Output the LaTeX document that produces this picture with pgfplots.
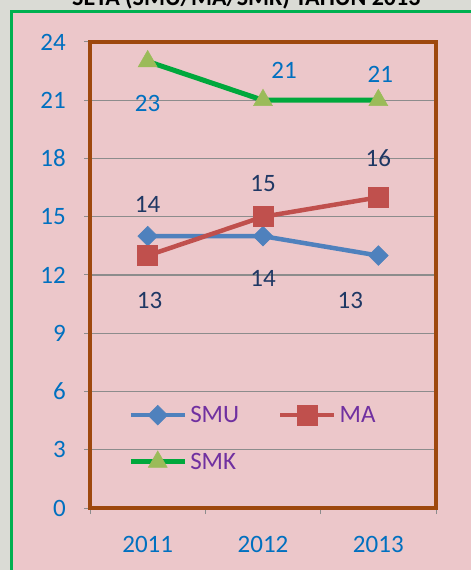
\documentclass[border=0pt]{standalone}
\usepackage{pgfplots}
\usepackage{pgfplotstable}
\pgfplotsset{compat=1.18}
\usepackage{fontspec}
\setmainfont{Carlito}
\definecolor{bgout}{RGB}{218,219,213}
\definecolor{pinkbg}{RGB}{236,199,202}
\definecolor{frameg}{RGB}{0,176,80}
\definecolor{brownax}{RGB}{158,72,14}
\definecolor{tickblue}{RGB}{0,112,192}
\definecolor{navy}{RGB}{31,56,100}
\definecolor{smu}{RGB}{79,129,189}
\definecolor{ma}{RGB}{192,80,77}
\definecolor{smkl}{RGB}{0,168,60}
\definecolor{smkm}{RGB}{155,187,89}
\definecolor{legpurple}{RGB}{112,48,160}
\definecolor{gridg}{RGB}{140,140,140}

\pgfplotstableread{
x y dx dy
1 14 0 32
2 14 0 -42
3 13 -28 -45
}\smutab
\pgfplotstableread{
x y dx dy
1 13 2 -45
2 15 0 33
3 16 0 39
}\matab
\pgfplotstableread{
x y dx dy
1 23 0 -42
2 21 21 30
3 21 2 26
}\smktab

\begin{document}
\begin{tikzpicture}
\useasboundingbox (0pt,0pt) rectangle (471pt,570pt);
\clip (0pt,0pt) rectangle (471pt,570pt);
\fill[bgout] (0pt,0pt) rectangle (471pt,570pt);
\fill[pinkbg] (10pt,0pt) rectangle (471pt,560pt);
\draw[frameg, line width=3.5pt] (11.5pt,0pt) -- (11.5pt,558.5pt) -- (471pt,558.5pt);
\node[anchor=base west, font=\bfseries\fontsize{24}{28}\selectfont, inner sep=0pt] at (72pt,564pt) {SETA (SMU/MA/SMK) TAHUN 2013};
\begin{axis}[
  at={(90pt,62pt)}, anchor=south west,
  scale only axis, width=346pt, height=466pt,
  xmin=0.5, xmax=3.5, ymin=0, ymax=24,
  clip=false,
  /pgf/number format/assume math mode=true,
  xtick={1,2,3}, xticklabels={2011,2012,2013},
  minor xtick={0.5,1.5,2.5,3.5},
  ytick={0,3,...,24},
  ymajorgrids,
  grid style={draw=gridg, line width=1.2pt},
  tick align=outside,
  major tick length=6pt, minor tick length=6pt,
  major x tick style={draw=none},
  tick style={draw=gridg, line width=1pt},
  axis line style={draw=brownax, line width=4pt},
  xtick pos=bottom, ytick pos=left,
  ticklabel style={font=\fontsize{25}{30}\selectfont, text=tickblue, inner sep=0pt},
  xticklabel style={anchor=north, yshift=-22pt},
  yticklabel style={anchor=east, xshift=-18pt},
  legend style={at={(0.11,0.225)}, anchor=north west, draw=none, fill=none, inner sep=0pt,
    font=\fontsize{25}{30}\selectfont, text=legpurple,
    nodes={inner sep=3pt},
    /tikz/every even column/.append style={column sep=36pt}, row sep=23pt},
  legend columns=2,
  legend cell align=left,
  legend image code/.code={\draw[mark repeat=2,mark phase=2] plot coordinates {(0pt,0pt)(27pt,0pt)(54pt,0pt)};},
  lbl/.style={
    nodes near coords,
    point meta=y,
    visualization depends on={\thisrow{dx}\as\dx},
    visualization depends on={\thisrow{dy}\as\dy},
    every node near coord/.append style={anchor=center, xshift=\dx pt, yshift=\dy pt, font=\fontsize{25}{30}\selectfont, inner sep=0pt, text=#1}},
]
\addplot[smu, line width=4.5pt, mark=square*, mark size=7pt,
  mark options={solid, rotate=45, fill=smu, draw=smu, line width=0.5pt},
  lbl=navy]
  table[x=x,y=y] {\smutab};
\addlegendentry{SMU}
\addplot[ma, line width=4.5pt, mark=square*, mark size=10pt,
  mark options={solid, fill=ma, draw=ma, line width=0.5pt},
  lbl=navy]
  table[x=x,y=y] {\matab};
\addlegendentry{MA}
\addplot[smkl, line width=5pt, mark=triangle*, mark size=11pt,
  mark options={solid, fill=smkm, draw=smkm, line width=0.5pt},
  lbl=tickblue]
  table[x=x,y=y] {\smktab};
\addlegendentry{SMK}
\end{axis}
\end{tikzpicture}
\end{document}
